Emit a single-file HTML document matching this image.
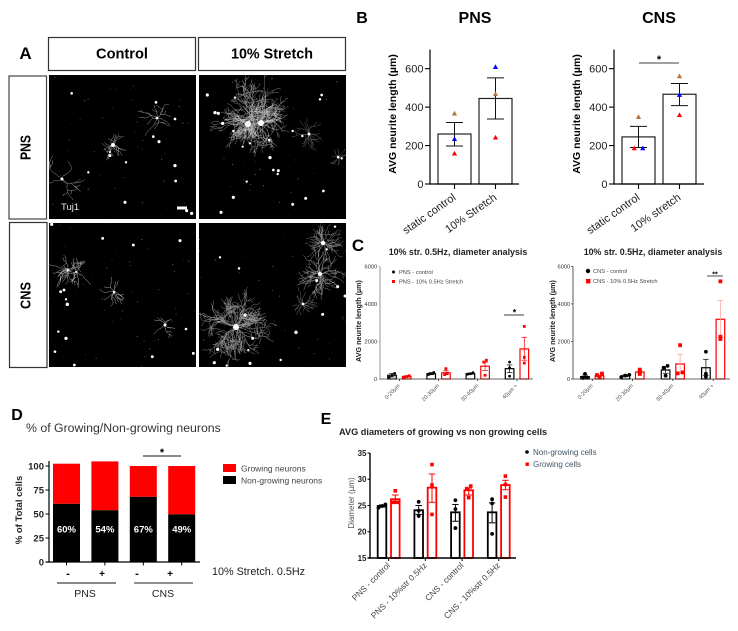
<!DOCTYPE html>
<html lang="en">
<head>
<meta charset="utf-8">
<title>Neurite length under stretch: multi-panel figure</title>
<style>
html,body{margin:0;padding:0;background:#fff;width:738px;height:631px;overflow:hidden}
svg{display:block}
text{font-family:"Liberation Sans",sans-serif}
</style>
</head>
<body>
<svg id="figure" xmlns="http://www.w3.org/2000/svg" width="738" height="631" viewBox="0 0 738 631">
  <defs>
    <clipPath id="clip-pns-control"><rect x="49" y="75" width="147" height="144"/></clipPath>
    <clipPath id="clip-pns-stretch"><rect x="199" y="75" width="147" height="144"/></clipPath>
    <clipPath id="clip-cns-control"><rect x="49" y="223" width="147" height="144"/></clipPath>
    <clipPath id="clip-cns-stretch"><rect x="199" y="223" width="147" height="144"/></clipPath>
    <filter id="soft" x="-5%" y="-5%" width="110%" height="110%"><feGaussianBlur stdDeviation="0.35"/></filter>
  </defs>
  <rect width="738" height="631" fill="#fff"/>

  <g id="panel-a">
    <text x="25.5" y="59" font-size="17" font-weight="700" text-anchor="middle">A</text>
    <rect x="48.5" y="37.5" width="147" height="33" fill="#fff" stroke="#333" stroke-width="1.2"/>
    <text x="96" y="58.5" font-size="15" font-weight="700" textLength="52" lengthAdjust="spacingAndGlyphs">Control</text>
    <rect x="198.5" y="37.5" width="147" height="33" fill="#fff" stroke="#333" stroke-width="1.2"/>
    <text x="231" y="58.5" font-size="15" font-weight="700" textLength="82" lengthAdjust="spacingAndGlyphs">10% Stretch</text>
    <rect x="9" y="76" width="37.5" height="143" fill="#fff" stroke="#444" stroke-width="1.2"/>
    <text font-size="15" font-weight="700" transform="translate(30.5 160) rotate(-90)" textLength="25" lengthAdjust="spacingAndGlyphs">PNS</text>
    <rect x="9.5" y="222.5" width="37.5" height="145" fill="#fff" stroke="#333" stroke-width="1.2"/>
    <text font-size="15" font-weight="700" transform="translate(30.5 309) rotate(-90)" textLength="27" lengthAdjust="spacingAndGlyphs">CNS</text>
    <rect x="49" y="75" width="147" height="144" fill="#000"/>
    <rect x="199" y="75" width="147" height="144" fill="#000"/>
    <rect x="49" y="223" width="147" height="144" fill="#000"/>
    <rect x="199" y="223" width="147" height="144" fill="#000"/>
    <g id="micrographs" filter="url(#soft)"></g>
    <text x="61" y="210" font-size="9.5" fill="#eee">Tuj1</text>
    <rect x="177" y="206.5" width="10" height="3" fill="#fff"/>
  </g>

  <g id="panel-b">
    <text x="362" y="23" font-size="16" font-weight="700" text-anchor="middle">B</text>
    <text x="475" y="23" font-size="16" font-weight="700" text-anchor="middle">PNS</text>
    <text x="659" y="23" font-size="16" font-weight="700" text-anchor="middle">CNS</text>
    <text font-size="10.5" font-weight="700" text-anchor="middle" transform="translate(396 114) rotate(-90)">AVG neurite length (µm)</text>
    <text font-size="10.5" font-weight="700" text-anchor="middle" transform="translate(580 114) rotate(-90)">AVG neurite length (µm)</text>
    <line x1="639" y1="63" x2="679" y2="63" stroke="#000" stroke-width="0.8"/>
    <text x="659" y="63" font-size="11" font-weight="700" text-anchor="middle">*</text>
  </g>

  <g id="panel-c">
    <text x="358" y="251" font-size="17" font-weight="700" text-anchor="middle">C</text>
    <text x="458" y="255" font-size="8.9" font-weight="700" fill="#222" text-anchor="middle">10% str. 0.5Hz, diameter analysis</text>
    <text x="653" y="255" font-size="8.9" font-weight="700" fill="#222" text-anchor="middle">10% str. 0.5Hz, diameter analysis</text>
    <text font-size="7.2" font-weight="700" fill="#222" text-anchor="middle" transform="translate(361 321) rotate(-90)">AVG neurite length (µm)</text>
    <text font-size="7.2" font-weight="700" fill="#222" text-anchor="middle" transform="translate(555 321) rotate(-90)">AVG neurite length (µm)</text>
    <circle cx="393.5" cy="272" r="1.5" fill="#000"/>
    <text x="399" y="274" font-size="5.7" fill="#444">PNS - control</text>
    <rect x="392" y="280" width="3" height="3" fill="#f00"/>
    <text x="399" y="283.5" font-size="5.7" fill="#444">PNS - 10% 0.5Hz Stretch</text>
    <circle cx="588" cy="271" r="2.2" fill="#000"/>
    <text x="593" y="273" font-size="5.7" fill="#444">CNS - control</text>
    <rect x="586" y="279" width="4.4" height="4.4" fill="#f00"/>
    <text x="593" y="283" font-size="5.7" fill="#444">CNS - 10% 0.5Hz Stretch</text>
    <line x1="504" y1="315" x2="524" y2="315" stroke="#000" stroke-width="0.7"/>
    <text x="514.5" y="315.5" font-size="9" font-weight="700" text-anchor="middle">*</text>
    <line x1="707" y1="276" x2="723" y2="276" stroke="#000" stroke-width="0.7"/>
    <text x="715" y="276.5" font-size="7" font-weight="700" text-anchor="middle">**</text>
  </g>

  <g id="panel-d">
    <text x="17" y="420" font-size="16" font-weight="700" text-anchor="middle">D</text>
    <text x="26" y="432" font-size="12.3" fill="#333">% of Growing/Non-growing neurons</text>
    <text font-size="9.5" font-weight="700" fill="#222" text-anchor="middle" transform="translate(22 510) rotate(-90)">% of Total cells</text>
    <rect x="223" y="464" width="13" height="8" fill="#f00"/>
    <text x="241" y="471.5" font-size="8.5" fill="#444">Growing neurons</text>
    <rect x="223" y="476" width="13" height="8" fill="#000"/>
    <text x="241" y="483.5" font-size="8.5" fill="#444">Non-growing neurons</text>
    <line x1="143" y1="456" x2="181" y2="456" stroke="#111" stroke-width="1"/>
    <text x="162" y="456" font-size="11" font-weight="700" text-anchor="middle">*</text>
    <text x="68" y="577" font-size="11" font-weight="700" text-anchor="middle">-</text>
    <text x="102" y="577" font-size="10" font-weight="700" text-anchor="middle">+</text>
    <text x="137" y="577" font-size="11" font-weight="700" text-anchor="middle">-</text>
    <text x="170" y="577" font-size="10" font-weight="700" text-anchor="middle">+</text>
    <text x="212" y="575" font-size="10.8" fill="#222">10% Stretch. 0.5Hz</text>
    <line x1="57" y1="583" x2="116" y2="583" stroke="#111" stroke-width="1"/>
    <line x1="134" y1="583" x2="193" y2="583" stroke="#222" stroke-width="1"/>
    <text x="85" y="597" font-size="10.5" fill="#222" text-anchor="middle">PNS</text>
    <text x="163" y="597" font-size="10.5" fill="#222" text-anchor="middle">CNS</text>
  </g>

  <g id="panel-e">
    <text x="326" y="424" font-size="16" font-weight="700" text-anchor="middle">E</text>
    <text x="339" y="435" font-size="9.2" font-weight="700" fill="#222">AVG diameters of growing vs non growing cells</text>
    <text font-size="8" fill="#555" text-anchor="middle" transform="translate(354 503) rotate(-90)">Diameter (µm)</text>
    <circle cx="527" cy="452" r="1.8" fill="#000"/>
    <text x="533" y="455" font-size="8" fill="#456">Non-growing cells</text>
    <rect x="525.5" y="462.5" width="3.4" height="3.4" fill="#f00"/>
    <text x="533" y="467" font-size="8" fill="#456">Growing cells</text>
  </g>
</svg>

<script>
/* Panel B data */
const bCategoriesPns = ['static control', '10% Stretch'];
const bCategoriesCns = ['static control', '10% stretch'];
const bTicks = [0, 200, 400, 600];
const bMeansPns = [260, 445];
const bErrLowPns = [198, 338];
const bErrHighPns = [320, 552];
const bPointsPns = [[368, 160, 235], [470, 243, 610]];
const bMeansCns = [245, 467];
const bErrLowCns = [190, 408];
const bErrHighCns = [300, 523];
const bPointsCns = [[350, 187, 187], [562, 360, 465]];
const bPointColors = ['#b5733a', '#ff0000', '#0000ff'];

/* Panel C data */
const cCategories = ['0-20µm', '20-30µm', '30-40µm', '40µm +'];
const cTicks = [0, 2000, 4000, 6000];
const cPnsControlMeans = [200, 280, 280, 550];
const cPnsControlLow = [110, 230, 250, 350];
const cPnsControlHigh = [290, 340, 320, 750];
const cPnsControlPoints = [[300, 200, 100], [350, 280, 240], [340, 280, 250], [900, 600, 150]];
const cPnsStretchMeans = [130, 330, 680, 1600];
const cPnsStretchLow = [100, 230, 450, 1000];
const cPnsStretchHigh = [170, 440, 900, 2220];
const cPnsStretchPoints = [[170, 130, 100], [550, 300, 230], [1000, 900, 200], [2800, 1150, 850]];
const cCnsControlMeans = [130, 170, 480, 600];
const cCnsControlLow = [60, 120, 300, 180];
const cCnsControlHigh = [210, 220, 660, 1050];
const cCnsControlPoints = [[270, 70, 50], [220, 180, 100], [700, 600, 170], [1450, 280, 120]];
const cCnsStretchMeans = [170, 370, 800, 3180];
const cCnsStretchLow = [100, 280, 300, 2200];
const cCnsStretchHigh = [240, 450, 1300, 4180];
const cCnsStretchPoints = [[290, 210, 100], [500, 380, 270], [1800, 350, 300], [5200, 2250, 2130]];

/* Panel D data */
const dCategories = ['PNS -', 'PNS +', 'CNS -', 'CNS +'];
const dTicks = [0, 25, 50, 75, 100];
const dNonGrowing = [60.7, 54, 68, 49.7];
const dGrowing = [41.7, 50.8, 32, 50.3];
const dPrinted = ['60%', '54%', '67%', '49%'];

/* Panel E data */
const eCategories = ['PNS - control', 'PNS - 10%str 0.5Hz', 'CNS - control', 'CNS - 10%str 0.5Hz'];
const eTicks = [15, 20, 25, 30, 35];
const eNonGrowingMeans = [24.9, 24.1, 23.7, 23.7];
const eNonGrowingLow = [24.7, 23.3, 22, 21.7];
const eNonGrowingHigh = [25.1, 25, 25.2, 25.5];
const eNonGrowingPoints = [[25.2, 24.9, 24.6], [25.7, 24, 23], [26, 24.3, 20.7], [26.2, 25.4, 19.6]];
const eGrowingMeans = [26.2, 28.4, 27.9, 28.9];
const eGrowingLow = [25.4, 25.6, 27, 28];
const eGrowingHigh = [27, 31, 28.3, 29.8];
const eGrowingPoints = [[27.8, 25.6, 25.6], [32.8, 28.9, 23.3], [28.7, 28.2, 26.5], [30.6, 29, 26.6]];

const NS = 'http://www.w3.org/2000/svg';

function make(tag, attrs, parent) {
  const el = document.createElementNS(NS, tag);
  for (const k in attrs) el.setAttribute(k, attrs[k]);
  parent.appendChild(el);
  return el;
}
function drawRule(parent, x1, y1, x2, y2, color, width, name) {
  const el = make('line', {x1: x1, y1: y1, x2: x2, y2: y2, stroke: color, 'stroke-width': width}, parent);
  
  
  return el;
}
function drawLabel(parent, x, y, str, opts, name) {
  const attrs = {x: x, y: y, 'font-size': opts.size, fill: opts.fill || '#222', 'text-anchor': opts.anchor || 'end'};
  if (opts.weight) attrs['font-weight'] = opts.weight;
  if (opts.rotate) attrs.transform = 'rotate(' + opts.rotate + ' ' + x + ' ' + y + ')';
  const el = make('text', attrs, parent);
  el.textContent = str;
  
  
  return el;
}
function drawBar(parent, cx, w, yBase, yTop, stroke, sw, fill) {
  const el = make('rect', {x: cx - w / 2, y: yTop, width: w, height: yBase - yTop, fill: fill, stroke: stroke, 'stroke-width': sw}, parent);
  
  
  return el;
}
function drawError(parent, cx, yLow, yHigh, cap, color, sw) {
  const g = make('g', {stroke: color, 'stroke-width': sw}, parent);
  
  
  make('line', {x1: cx, y1: yLow, x2: cx, y2: yHigh}, g);
  make('line', {x1: cx - cap, y1: yLow, x2: cx + cap, y2: yLow}, g);
  make('line', {x1: cx - cap, y1: yHigh, x2: cx + cap, y2: yHigh}, g);
}
function drawCircle(parent, x, y, r, color) {
  const el = make('circle', {cx: x, cy: y, r: r, fill: color}, parent);
  
  
}
function drawSquare(parent, x, y, size, color) {
  const el = make('rect', {x: x - size / 2, y: y - size / 2, width: size, height: size, fill: color}, parent);
  
  
}
function drawTriangle(parent, x, y, r, color) {
  const pts = (x - r) + ',' + (y + r * 0.85) + ' ' + (x + r) + ',' + (y + r * 0.85) + ' ' + x + ',' + (y - r * 0.95);
  const el = make('polygon', {points: pts, fill: color}, parent);
  
  
}
/* Horizontal offsets: points that would overlap are spread symmetrically. */
function spread(values, yFn, threshold, step) {
  const order = values.map(function (v, i) { return i; }).sort(function (a, b) { return values[a] - values[b]; });
  const offsets = values.map(function () { return 0; });
  let group = [];
  function flush() {
    group.forEach(function (idx, k) { offsets[idx] = (k - (group.length - 1) / 2) * step; });
    group = [];
  }
  order.forEach(function (idx, n) {
    if (n > 0 && Math.abs(yFn(values[idx]) - yFn(values[order[n - 1]])) > threshold) flush();
    group.push(idx);
  });
  flush();
  return offsets;
}
function drawYAxis(parent, x, yTopPx, ticks, yFn, o) {
  drawRule(parent, x, yTopPx, x, yFn(ticks[0]) + o.sw / 2, o.color, o.sw, 'y-axis-line');
  ticks.forEach(function (t) {
    drawRule(parent, x - o.tick, yFn(t), x, yFn(t), o.color, o.tickW, 'y-tick');
    drawLabel(parent, x - o.tick - o.gap, yFn(t) + o.size * 0.36, String(t), {size: o.size, fill: o.fill, weight: o.weight}, 'y-tick-label');
  });
}

/* ---------- Panel B ---------- */
function yB(v) { return 184 - v * 0.1922; }
function xBPns(i) { return 454.5 + i * 41; }
function xBCns(i) { return 638.5 + i * 41; }
function drawB(parent, axisX, axisEnd, xFn, cats, means, low, high, pts) {
  const g = make('g', {}, parent);
  
  
  cats.forEach(function (c, i) {
    drawBar(g, xFn(i), 33, yB(0), yB(means[i]), '#222', 1.2, '#fff');
  });
  drawYAxis(g, axisX, yB(700), bTicks, yB, {sw: 1.2, color: '#000', tick: 5, tickW: 1.1, gap: 1.5, size: 11, fill: '#222'});
  drawRule(g, axisX, yB(0), axisEnd, yB(0), '#000', 1.2, 'x-axis-line');
  cats.forEach(function (c, i) {
    drawRule(g, xFn(i), yB(0), xFn(i), yB(0) + 5, '#000', 1.1, 'x-tick');
    drawLabel(g, xFn(i) + 2, 199, c, {size: 11, fill: '#222', rotate: -35}, 'x-tick-label');
    drawError(g, xFn(i), yB(low[i]), yB(high[i]), 8.5, '#111', 1);
    const off = spread(pts[i], yB, 2, 8.5);
    pts[i].forEach(function (v, k) {
      drawTriangle(g, xFn(i) + off[k], yB(v), 2.6, bPointColors[k]);
    });
  });
}
const panelB = document.getElementById('panel-b');
drawB(panelB, 430, 519, xBPns, bCategoriesPns, bMeansPns, bErrLowPns, bErrHighPns, bPointsPns);
drawB(panelB, 614, 704, xBCns, bCategoriesCns, bMeansCns, bErrLowCns, bErrHighCns, bPointsCns);

/* ---------- Panel C ---------- */
function yC(v) { return 379 - v * 0.01878; }
function xCPns(cat, series) { return 392 + cat * 39.2 + series * 14.7; }
function xCCns(cat, series) { return 585 + cat * 40.3 + series * 14.5; }
function drawC(parent, axisX, axisEnd, axisColor, axisW, xFn, ctl, str, big) {
  const g = make('g', {}, parent);
  
  
  cCategories.forEach(function (c, i) {
    drawBar(g, xFn(i, 0), 8.6, yC(0), yC(ctl.means[i]), '#000', 1.2, '#fff');
    drawBar(g, xFn(i, 1), 8.6, yC(0), yC(str.means[i]), '#f00', 1.2, '#fff');
    drawError(g, xFn(i, 0), yC(ctl.low[i]), yC(ctl.high[i]), 2.8, '#000', 0.7);
    drawError(g, xFn(i, 1), yC(str.low[i]), yC(str.high[i]), 2.8, big ? '#f99' : '#f00', 0.7);
    const off0 = spread(ctl.pts[i], yC, 2, big ? 4 : 2.6);
    ctl.pts[i].forEach(function (v, k) { drawCircle(g, xFn(i, 0) + off0[k], yC(v), big ? 1.9 : 1.4, '#000'); });
    const off1 = spread(str.pts[i], yC, 2, big ? 5 : 2.6);
    str.pts[i].forEach(function (v, k) { drawSquare(g, xFn(i, 1) + off1[k], yC(v), big ? 3.8 : 2.8, '#f00'); });
    const mid = (xFn(i, 0) + xFn(i, 1)) / 2;
    drawRule(g, mid, yC(0), mid, yC(0) + 2, '#000', 0.7, 'x-tick');
    drawLabel(g, mid + 1, 386, c, {size: 5.6, fill: '#555', rotate: -45}, 'x-tick-label');
  });
  drawYAxis(g, axisX, yC(6000), cTicks, yC, {sw: axisW, color: axisColor, tick: 2, tickW: 0.7, gap: 0.8, size: 5.7, fill: '#333'});
  drawRule(g, axisX, yC(0), axisEnd, yC(0), '#333', 0.8, 'x-axis-line');
}
const panelC = document.getElementById('panel-c');
drawC(panelC, 380, 533, '#b5b5b5', 1.4, xCPns,
  {means: cPnsControlMeans, low: cPnsControlLow, high: cPnsControlHigh, pts: cPnsControlPoints},
  {means: cPnsStretchMeans, low: cPnsStretchLow, high: cPnsStretchHigh, pts: cPnsStretchPoints}, false);
drawC(panelC, 573, 730, '#333', 0.8, xCCns,
  {means: cCnsControlMeans, low: cCnsControlLow, high: cCnsControlHigh, pts: cCnsControlPoints},
  {means: cCnsStretchMeans, low: cCnsStretchLow, high: cCnsStretchHigh, pts: cCnsStretchPoints}, true);

/* ---------- Panel D ---------- */
function yD(v) { return 562 - v * 0.96; }
function xD(i) { return 66.5 + i * 38.4; }
const panelD = document.getElementById('panel-d');
dCategories.forEach(function (c, i) {
  const w = 27;
  const lower = make('rect', {x: xD(i) - w / 2, y: yD(dNonGrowing[i]), width: w, height: yD(0) - yD(dNonGrowing[i]), fill: '#000'}, panelD);
  
  
  const total = dNonGrowing[i] + dGrowing[i];
  const upper = make('rect', {x: xD(i) - w / 2, y: yD(total), width: w, height: yD(dNonGrowing[i]) - yD(total), fill: '#f00'}, panelD);
  
  
  drawLabel(panelD, xD(i), 532.5, dPrinted[i], {size: 9.5, fill: '#fff', weight: 700, anchor: 'middle'}, 'percent-label');
  drawRule(panelD, xD(i), yD(0), xD(i), yD(0) + 3.5, '#000', 1, 'x-tick');
});
drawYAxis(panelD, 49, 461, dTicks, yD, {sw: 1.2, color: '#000', tick: 3.5, tickW: 1, gap: 1.5, size: 9.5, fill: '#222', weight: 700});
drawRule(panelD, 45.5, yD(0), 200, yD(0), '#000', 1.2, 'x-axis-line');

/* ---------- Panel E ---------- */
function yE(v) { return 558 - (v - 15) * 5.25; }
function xE(cat, series) { return 382 + cat * 36.7 + series * 13.3; }
const panelE = document.getElementById('panel-e');
eCategories.forEach(function (c, i) {
  drawBar(panelE, xE(i, 0), 8.6, yE(15), yE(eNonGrowingMeans[i]), '#000', 1.8, '#fff');
  drawBar(panelE, xE(i, 1), 8.6, yE(15), yE(eGrowingMeans[i]), '#f00', 1.8, '#fff');
  drawError(panelE, xE(i, 0), yE(eNonGrowingLow[i]), yE(eNonGrowingHigh[i]), 3.2, '#000', 1);
  drawError(panelE, xE(i, 1), yE(eGrowingLow[i]), yE(eGrowingHigh[i]), 3.2, '#f00', 1);
  const off0 = spread(eNonGrowingPoints[i], yE, 3, 3.4);
  eNonGrowingPoints[i].forEach(function (v, k) { drawCircle(panelE, xE(i, 0) + off0[k], yE(v), 1.9, '#000'); });
  const off1 = spread(eGrowingPoints[i], yE, 3, 4);
  eGrowingPoints[i].forEach(function (v, k) { drawSquare(panelE, xE(i, 1) + off1[k], yE(v), 3.6, '#f00'); });
  const mid = (xE(i, 0) + xE(i, 1)) / 2;
  drawRule(panelE, mid, yE(15), mid, yE(15) + 3, '#000', 1, 'x-tick');
  drawLabel(panelE, mid + 2, 566, c, {size: 8.4, fill: '#444', rotate: -45}, 'x-tick-label');
});
drawYAxis(panelE, 370, yE(35), eTicks, yE, {sw: 1.4, color: '#000', tick: 2.5, tickW: 1, gap: 1, size: 8, fill: '#222', weight: 700});
drawRule(panelE, 367.5, yE(15), 516, yE(15), '#000', 1.4, 'x-axis-line');

/* ---------- Panel A micrograph texture (decorative imagery, not data) ---------- */
const microRoot = document.getElementById('micrographs');
let seedState = 12345;
function rnd() { seedState = (seedState * 16807) % 2147483647; return seedState / 2147483647; }
function branch(x, y, a, remaining, depth) {
  let d = 'M' + x.toFixed(1) + ' ' + y.toFixed(1);
  const step = 1.8;
  const home = a;
  let forks = [];
  while (remaining > 0) {
    a += (rnd() - 0.5) * 1.15 + (home - a) * 0.14;
    x += Math.cos(a) * step;
    y += Math.sin(a) * step;
    d += 'L' + x.toFixed(1) + ' ' + y.toFixed(1);
    remaining -= step;
    if (depth > 0 && remaining > 3 && rnd() < 0.2) {
      forks.push([x, y, a + (rnd() < 0.5 ? -1 : 1) * (0.5 + rnd() * 0.6), remaining * (0.5 + rnd() * 0.4), depth - 1]);
    }
  }
  forks.forEach(function (f) { d += branch(f[0], f[1], f[2], f[3], f[4]); });
  return d;
}
function drawNeuron(parent, n) {
  let d = '';
  for (let i = 0; i < n.arms; i++) {
    const a = (i / n.arms) * Math.PI * 2 + rnd() * 0.6;
    d += branch(n.x, n.y, a, n.r * (0.6 + rnd() * 0.6), n.depth);
  }
  const el = make('path', {d: d, fill: 'none', stroke: n.color, 'stroke-width': n.sw, 'stroke-linecap': 'round'}, parent);
  
  
  const body = make('circle', {cx: n.x, cy: n.y, r: n.body, fill: '#fff'}, parent);
  
  
}
const micrographs = [
  {clip: 'clip-pns-control', ox: 49, oy: 75, dy: 0,
    neurons: [
      {x: 157, y: 118, r: 20, arms: 6, depth: 2, color: '#999', sw: 0.5, body: 1.4},
      {x: 113, y: 145, r: 12, arms: 14, depth: 1, color: '#888', sw: 0.5, body: 2},
      {x: 110, y: 152, r: 7, arms: 6, depth: 1, color: '#aaa', sw: 0.5, body: 1},
      {x: 62, y: 179, r: 30, arms: 5, depth: 2, color: '#999', sw: 0.5, body: 1.5}
    ],
    spots: [[215,280],[468,307],[525,357],[460,410],[477,425],[378,487],[265,517],[525,497],[527,543],[375,607],[330,467],[575,640],[560,632]]},
  {clip: 'clip-pns-stretch', ox: 199, oy: 75, dy: 0,
    neurons: [
      {x: 252, y: 116, r: 42, arms: 30, depth: 2, color: '#a0a0a0', sw: 0.4, body: 0.1},
      {x: 248, y: 124, r: 24, arms: 12, depth: 1, color: '#ccc', sw: 0.45, body: 3},
      {x: 261, y: 123, r: 24, arms: 12, depth: 1, color: '#ccc', sw: 0.45, body: 3},
      {x: 309, y: 134, r: 17, arms: 12, depth: 1, color: '#666', sw: 0.45, body: 1.5},
      {x: 338, y: 157, r: 9, arms: 6, depth: 1, color: '#666', sw: 0.45, body: 1.2}
    ],
    spots: [[622,285],[705,293],[965,285],[960,298],[645,338],[655,340],[668,370],[700,393],[728,440],[750,430],[808,420],[878,393],[907,408],[810,473],[820,510],[835,512],[833,522],[740,545],[970,573],[700,592],[917,595],[878,613],[663,637],[1015,472],[1025,475]]},
  {clip: 'clip-cns-control', ox: 49, oy: 223, dy: 215,
    neurons: [
      {x: 68, y: 270, r: 20, arms: 10, depth: 2, color: '#aaa', sw: 0.5, body: 1.5},
      {x: 76, y: 272, r: 16, arms: 6, depth: 1, color: '#bbb', sw: 0.5, body: 1},
      {x: 114, y: 292, r: 13, arms: 8, depth: 1, color: '#aaa', sw: 0.5, body: 1.3},
      {x: 165, y: 325, r: 13, arms: 6, depth: 1, color: '#aaa', sw: 0.5, body: 1.5}
    ],
    spots: [[308,70],[400,90],[540,77],[192,225],[182,230],[198,253],[202,268],[175,350],[198,370],[165,410],[223,450],[457,425],[558,342],[580,415],[155,28]]},
  {clip: 'clip-cns-stretch', ox: 199, oy: 223, dy: 215,
    neurons: [
      {x: 323, y: 243, r: 21, arms: 22, depth: 2, color: '#999', sw: 0.4, body: 2.2},
      {x: 320, y: 274, r: 25, arms: 26, depth: 2, color: '#aaa', sw: 0.4, body: 2},
      {x: 303, y: 304, r: 15, arms: 10, depth: 1, color: '#777', sw: 0.45, body: 1.4},
      {x: 236, y: 327, r: 37, arms: 30, depth: 2, color: '#a0a0a0', sw: 0.4, body: 3}
    ],
    spots: [[1005,35],[980,103],[950,197],[1013,215],[1035,243],[968,298],[888,352],[735,300],[758,370],[745,405],[653,403],[643,443],[750,445],[842,435],[680,452],[660,127],[717,160]]}
];
micrographs.forEach(function (m) {
  const g = make('g', {'clip-path': 'url(#' + m.clip + ')'}, microRoot);
  
  
  for (let i = 0; i < 45; i++) {
    const speck = make('circle', {cx: m.ox + rnd() * 147, cy: m.oy + rnd() * 144, r: 0.35 + rnd() * 0.3, fill: '#555'}, g);
    
    
  }
  m.neurons.forEach(function (n) { drawNeuron(g, n); });
  m.spots.forEach(function (s) {
    const spot = make('circle', {cx: s[0] / 3, cy: s[1] / 3 + m.dy, r: 1.1 + rnd() * 0.6, fill: '#fff'}, g);
    
    
  });
});
</script>
</body>
</html>
